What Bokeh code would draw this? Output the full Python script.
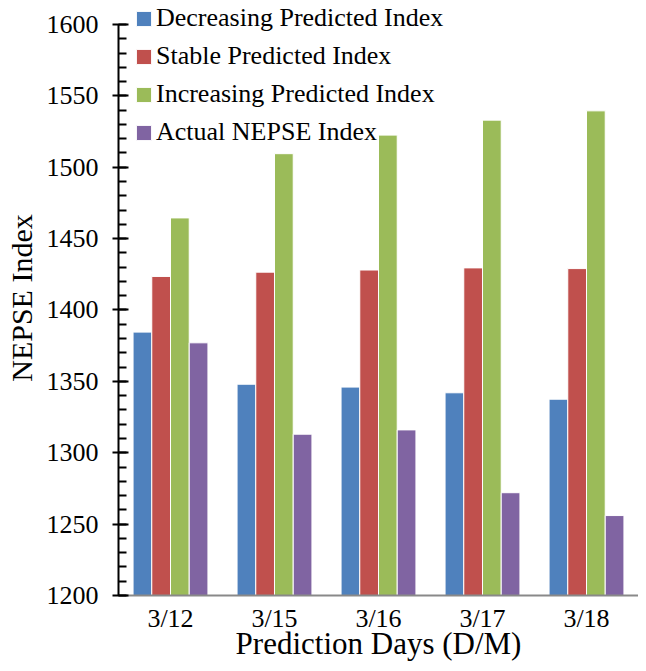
from bokeh.plotting import figure
from bokeh.models import ColumnDataSource, FactorRange, Range1d, SingleIntervalTicker, Legend
from bokeh.transform import dodge
from bokeh.embed import file_html
from bokeh.resources import INLINE

days = ['3/12', '3/15', '3/16', '3/17', '3/18']
decreasing = [1384.5, 1348, 1346, 1342, 1337.5]
stable = [1423.5, 1426.5, 1428, 1429.5, 1429]
increasing = [1464.5, 1509.5, 1522.5, 1533, 1539.5]
actual = [1377, 1313, 1316, 1272, 1256]

series = [
    ('decreasing', 'Decreasing Predicted Index', '#4F81BD', -0.27),
    ('stable', 'Stable Predicted Index', '#C0504D', -0.09),
    ('increasing', 'Increasing Predicted Index', '#9BBB59', 0.09),
    ('actual', 'Actual NEPSE Index', '#8064A2', 0.27),
]

source = ColumnDataSource(data=dict(days=days, decreasing=decreasing, stable=stable,
                                    increasing=increasing, actual=actual))

FONT = 'Liberation Serif'

# frame runs to the top of the figure so the legend can sit above the 1600 tick;
# the axis itself is bounded to 1200-1600
p = figure(x_range=FactorRange(*days), y_range=Range1d(1200, 1616.8),
           width=638, height=663, output_backend="svg", toolbar_location=None,
           min_border_left=118, min_border_right=0, min_border_top=0, min_border_bottom=68)

items = []
for key, label, color, off in series:
    r = p.vbar(x=dodge('days', off, range=p.x_range), top=key, bottom=1200, width=0.18,
               source=source, fill_color=color, line_color='white', line_width=1)
    items.append((label, [r]))

legend = Legend(items=items, location=(16, 448), orientation='vertical')
legend.background_fill_alpha = 0
legend.border_line_color = None
legend.padding = 0
legend.margin = 0
legend.spacing = 8
legend.glyph_width = 19
legend.glyph_height = 19
legend.label_height = 26
legend.label_standoff = 3
legend.label_text_font = FONT
legend.label_text_font_size = '26px'
legend.label_text_color = 'black'
p.add_layout(legend, 'center')

p.xgrid.grid_line_color = None
p.ygrid.grid_line_color = None
p.outline_line_color = None

p.yaxis.bounds = (1200, 1600)
p.yaxis.ticker = SingleIntervalTicker(interval=50, num_minor_ticks=5)
p.yaxis.axis_line_color = 'black'
p.yaxis.axis_line_width = 2
p.yaxis.major_tick_line_color = 'black'
p.yaxis.major_tick_line_width = 2
p.yaxis.major_tick_out = 6
p.yaxis.major_tick_in = 10
p.yaxis.minor_tick_line_color = 'black'
p.yaxis.minor_tick_line_width = 2
p.yaxis.minor_tick_out = 0
p.yaxis.minor_tick_in = 8
p.yaxis.major_label_standoff = 14
p.yaxis.major_label_text_font = FONT
p.yaxis.major_label_text_font_size = '26px'
p.yaxis.major_label_text_color = 'black'
p.yaxis.axis_label = 'NEPSE Index'
p.yaxis.axis_label_text_font = FONT
p.yaxis.axis_label_text_font_size = '30px'
p.yaxis.axis_label_text_font_style = 'normal'
p.yaxis.axis_label_text_color = 'black'
p.yaxis.axis_label_standoff = 6

p.xaxis.axis_line_color = '#898989'
p.xaxis.axis_line_width = 2
p.xaxis.major_tick_line_color = None
p.xaxis.minor_tick_line_color = None
p.xaxis.major_label_standoff = 2
p.xaxis.major_label_text_font = FONT
p.xaxis.major_label_text_font_size = '26px'
p.xaxis.major_label_text_color = 'black'
p.xaxis.axis_label = 'Prediction Days (D/M)'
p.xaxis.axis_label_text_font = FONT
p.xaxis.axis_label_text_font_size = '31px'
p.xaxis.axis_label_text_font_style = 'normal'
p.xaxis.axis_label_text_color = 'black'
p.xaxis.axis_label_standoff = -10

open("out.html", "w").write(file_html(p, INLINE))
